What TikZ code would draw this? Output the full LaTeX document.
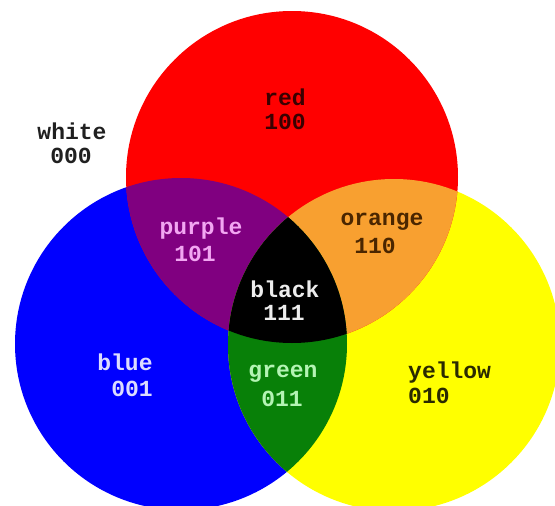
\documentclass[tikz,border=0pt]{standalone}
\usepackage{fontspec}
\setmonofont{Liberation Mono}
\definecolor{cRed}{HTML}{FF0000}
\definecolor{cBlue}{HTML}{0000FF}
\definecolor{cYellow}{HTML}{FFFF00}
\definecolor{cPurple}{HTML}{800080}
\definecolor{cOrange}{HTML}{F8A030}
\definecolor{cGreen}{HTML}{088008}
\definecolor{cBlack}{HTML}{000000}
\definecolor{tRed}{HTML}{3A0000}
\definecolor{tWhite}{HTML}{202020}
\definecolor{tPurple}{HTML}{F2A6F2}
\definecolor{tBlack}{HTML}{EDEDED}
\definecolor{tOrange}{HTML}{4A2600}
\definecolor{tBlue}{HTML}{DCDCFF}
\definecolor{tGreen}{HTML}{B4F4B4}
\definecolor{tYellow}{HTML}{2A2A00}
\tikzset{
  lbl/.style={anchor=base, inner sep=0pt, font=\fontsize{23}{25}\selectfont\ttfamily\bfseries},
}
\begin{document}
\begin{tikzpicture}[x=1pt,y=-1pt]
\fill[white] (0,0) rectangle (555,506);
\useasboundingbox (0,0) rectangle (555,506);
\def\R{166}
\coordinate (cr) at (292,177);
\coordinate (cb) at (181,344);
\coordinate (cy) at (394,345);
% base circles
\fill[cBlue] (cb) circle (\R);
\fill[cYellow] (cy) circle (\R);
\fill[cRed] (cr) circle (\R);
% pairwise overlaps
\begin{scope}
  \clip (cr) circle (\R);
  \fill[cPurple] (cb) circle (\R);
  \fill[cOrange] (cy) circle (\R);
\end{scope}
\begin{scope}
  \clip (cb) circle (\R);
  \fill[cGreen] (cy) circle (\R);
\end{scope}
% triple overlap
\begin{scope}
  \clip (cr) circle (\R);
  \clip (cb) circle (\R);
  \fill[cBlack] (cy) circle (\R);
\end{scope}
% labels
\node[lbl, text=tRed] (redname) at (285,105) {red};
\node[lbl, text=tRed] (redcode) at (285,129.5) {100};
\node[lbl, text=tWhite] (whitename) at (72,139) {white};
\node[lbl, text=tWhite] (whitecode) at (71,163.5) {000};
\node[lbl, text=tPurple] (purplename) at (201,234) {purple};
\node[lbl, text=tPurple] (purplecode) at (195,261.5) {101};
\node[lbl, text=tOrange] (orangename) at (382,225.5) {orange};
\node[lbl, text=tOrange] (orangecode) at (375,253.5) {110};
\node[lbl, text=tBlack] (blackname) at (285,297) {black};
\node[lbl, text=tBlack] (blackcode) at (284,320.5) {111};
\node[lbl, text=tBlue] (bluename) at (125,370) {blue};
\node[lbl, text=tBlue] (bluecode) at (132,396.5) {001};
\node[lbl, text=tGreen] (greenname) at (283,377.5) {green};
\node[lbl, text=tGreen] (greencode) at (282,406.5) {011};
\node[lbl, text=tYellow, anchor=base west] (yellowname) at (408,378) {yellow};
\node[lbl, text=tYellow, anchor=base west] (yellowcode) at (408,403.5) {010};
\end{tikzpicture}
\end{document}
